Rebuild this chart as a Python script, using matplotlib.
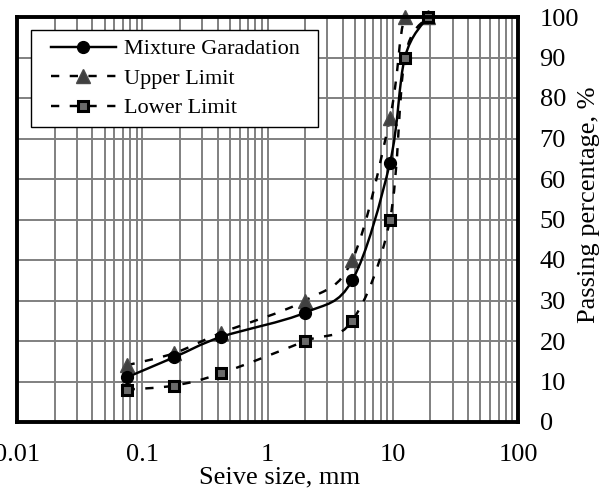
import numpy as np
import matplotlib
matplotlib.use("Agg")
import matplotlib.pyplot as plt
from matplotlib.path import Path
from matplotlib.patches import PathPatch
from matplotlib.lines import Line2D
from matplotlib.legend_handler import HandlerLine2D
from matplotlib.ticker import FixedLocator, NullFormatter, FixedFormatter, LogLocator

plt.rcParams['font.family'] = ['Liberation Serif', 'DejaVu Serif']

# ---- data ----
sieve = [0.075, 0.18, 0.425, 2.0, 4.75, 9.5, 12.5, 19.0]
mixture = [11, 16, 21, 27, 35, 64, 90, 100]
upper = [14, 17, 22, 30, 40, 75, 100, 100]
lower = [8, 9, 12, 20, 25, 50, 90, 100]
x_ticks = [0.01, 0.1, 1, 10, 100]
x_tick_labels = ['0.01', '0.1', '1', '10', '100']
y_ticks = [0, 10, 20, 30, 40, 50, 60, 70, 80, 90, 100]


def smooth_path(xs, ys):
    """Excel-like smoothed line: cubic Bezier through points in log-x display space."""
    u = np.log10(np.asarray(xs, float))
    v = np.asarray(ys, float)
    n = len(u)
    verts = [(u[0], v[0])]
    codes = [Path.MOVETO]
    for i in range(n - 1):
        i0 = max(i - 1, 0)
        i3 = min(i + 2, n - 1)
        c1 = (u[i] + (u[i + 1] - u[i0]) / 6.0, v[i] + (v[i + 1] - v[i0]) / 6.0)
        c2 = (u[i + 1] - (u[i3] - u[i]) / 6.0, v[i + 1] - (v[i3] - v[i]) / 6.0)
        verts += [c1, c2, (u[i + 1], v[i + 1])]
        codes += [Path.CURVE4] * 3
    verts = np.array(verts)
    verts[:, 0] = 10 ** verts[:, 0]
    return Path(verts, codes)


class OffsetHandler(HandlerLine2D):
    """Legend line handle starting a little to the right (extra left padding)."""
    def __init__(self, offset_px=8, **kw):
        super().__init__(**kw)
        self.offset_px = offset_px

    def get_xdata(self, legend, xdescent, ydescent, width, height, fontsize):
        x0 = -xdescent + self.offset_px
        x1 = -xdescent + width
        return [x0, x1], [0.5 * (x0 + x1)]


fig = plt.figure(figsize=(6.11, 4.91), dpi=100)
ax = fig.add_axes([17 / 611, 69 / 491, 501 / 611, 405 / 491])
ax.set_xscale('log')
ax.set_xlim(0.01, 100)
ax.set_ylim(0, 100)

dash = (0, (3.4, 4.3))
lw = 1.75

styles = [
    dict(data=upper, ls=dash, marker='^', mfc='#404040', mec='#4a4a4a', mew=1.0, ms=9.5, label='Upper Limit', z=3),
    dict(data=mixture, ls='-', marker='o', mfc='black', mec='black', mew=1.0, ms=8.5, label='Mixture Garadation', z=4),
    dict(data=lower, ls=dash, marker='s', mfc='#6a6a6a', mec='black', mew=2.2, ms=6.5, label='Lower Limit', z=5),
]
handles = {}
for s in styles:
    patch = PathPatch(smooth_path(sieve, s['data']), fill=False, edgecolor='black',
                      linewidth=lw, linestyle=s['ls'], zorder=s['z'])
    ax.add_patch(patch)
    ax.plot(sieve, s['data'], linestyle='none', marker=s['marker'], markerfacecolor=s['mfc'],
            markeredgecolor=s['mec'], markeredgewidth=s['mew'], markersize=s['ms'],
            zorder=s['z'] + 0.5, clip_on=False)
    handles[s['label']] = Line2D([], [], color='black', linewidth=lw, linestyle=s['ls'],
                                 marker=s['marker'], markerfacecolor=s['mfc'],
                                 markeredgecolor=s['mec'], markeredgewidth=s['mew'],
                                 markersize=s['ms'])

order = ['Mixture Garadation', 'Upper Limit', 'Lower Limit']
hmap = {handles[k]: OffsetHandler(offset_px=8) for k in order}
leg = ax.legend([handles[k] for k in order], order, loc='upper left',
                bbox_to_anchor=(13.7 / 501, (422 - 119) / 405, 287.3 / 501, 89 / 405),
                mode='expand', borderaxespad=0, handler_map=hmap,
                fontsize=16, frameon=True, fancybox=False, framealpha=1,
                edgecolor='black', handlelength=3.45, handletextpad=0.35,
                borderpad=0.4, labelspacing=0.4)
leg.get_frame().set_linewidth(1.0)
leg.set_zorder(10)

# grid
ax.xaxis.set_major_locator(FixedLocator(x_ticks))
ax.xaxis.set_major_formatter(FixedFormatter(x_tick_labels))
ax.xaxis.set_minor_locator(LogLocator(base=10, subs=np.arange(2, 10)))
ax.xaxis.set_minor_formatter(NullFormatter())
ax.yaxis.set_major_locator(FixedLocator(y_ticks))
ax.grid(True, which='both', axis='x', color='#808080', linewidth=1.4)
ax.grid(True, which='major', axis='y', color='#808080', linewidth=1.4)
ax.set_axisbelow(True)

ax.yaxis.tick_right()
ax.yaxis.set_label_position('right')
ax.tick_params(axis='both', which='both', length=0, labelsize=19)
ax.tick_params(axis='x', pad=16)
ax.tick_params(axis='y', pad=15.5)

for sp in ax.spines.values():
    sp.set_linewidth(2.8)
    sp.set_color('black')
    sp.set_zorder(6)

ax.set_xlabel('Seive size, mm', fontsize=19)
ax.set_ylabel('Passing percentage, %', fontsize=19)
ax.xaxis.set_label_coords((280 - 17) / 501, (422 - 466) / 405)
ax.yaxis.set_label_coords((578 - 17) / 501, (422 - 205) / 405)

fig.savefig('out.png', dpi=100)
